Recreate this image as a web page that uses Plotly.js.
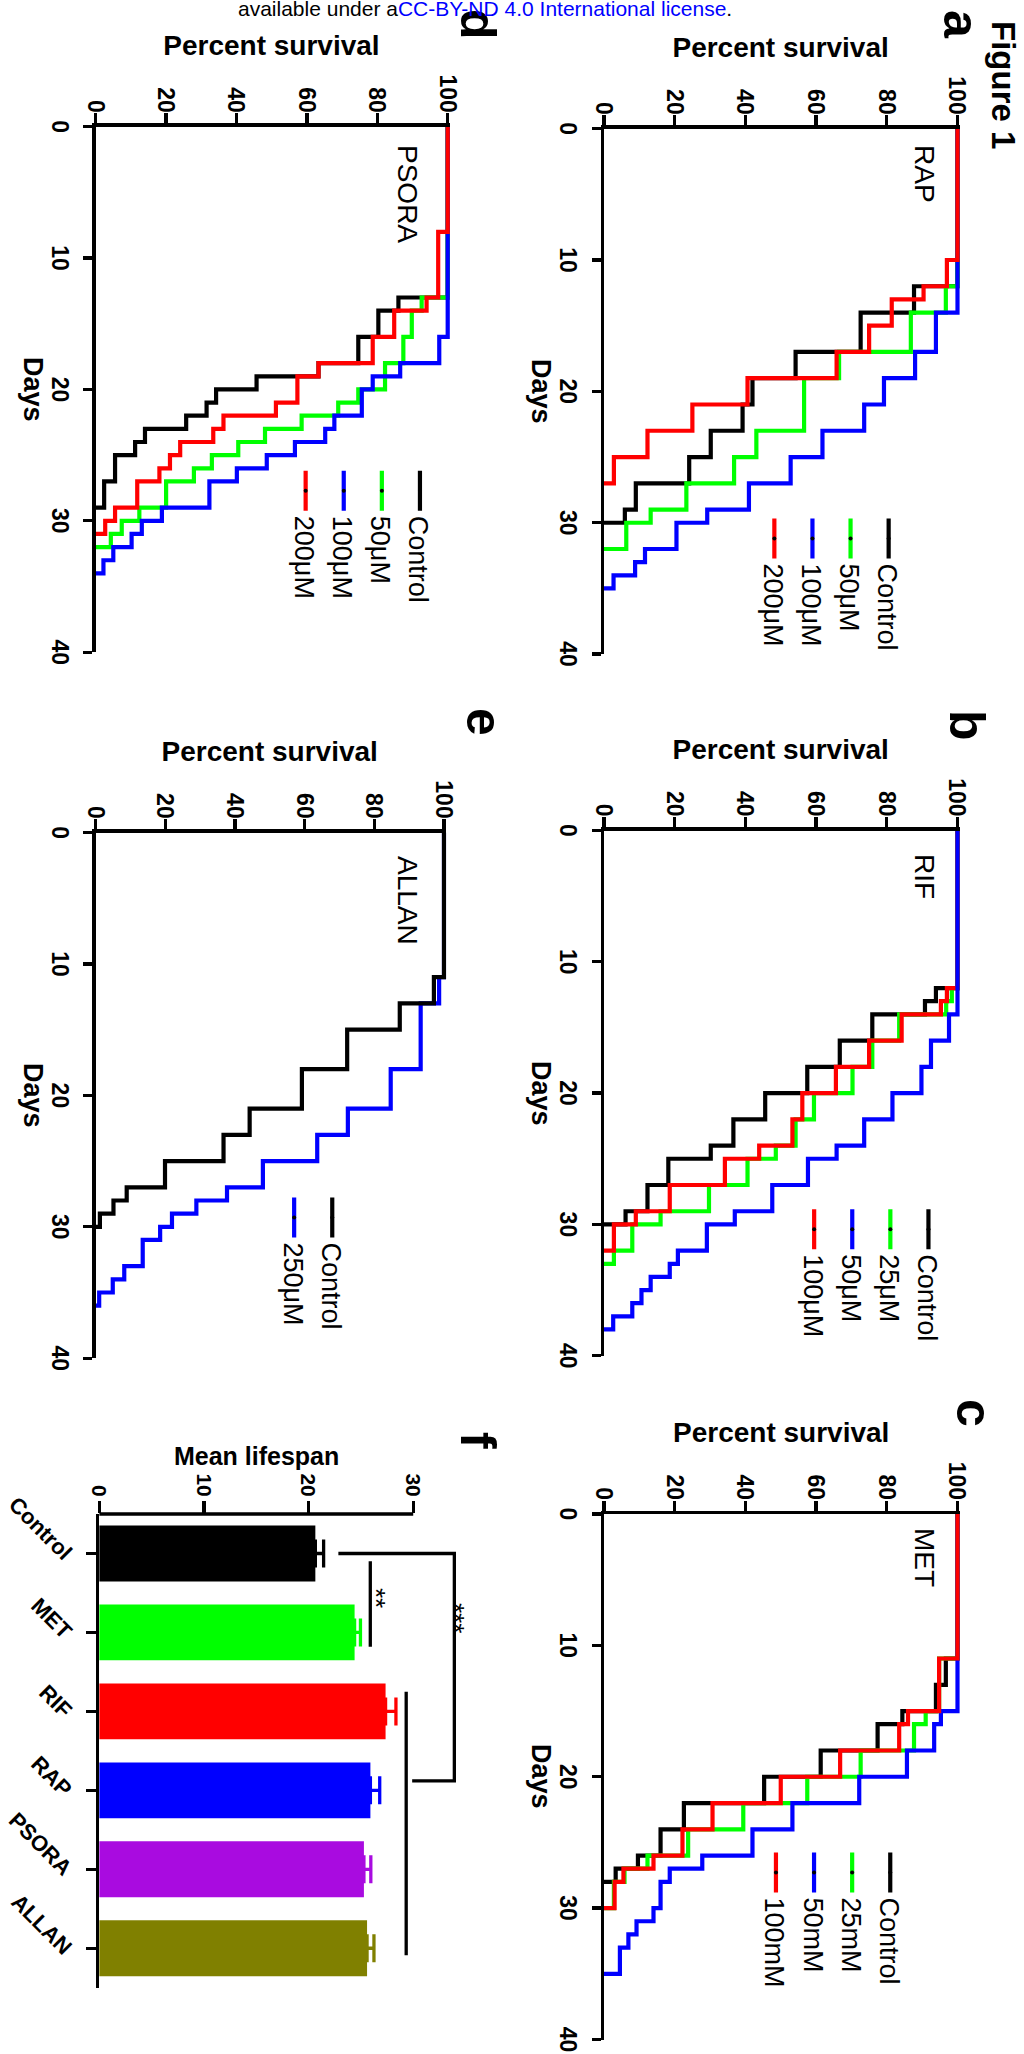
<!DOCTYPE html>
<html>
<head>
<meta charset="utf-8">
<title>Figure 1 – survival and mean lifespan</title>
<script src="https://cdn.plot.ly/plotly-3.0.1.min.js"></script>
<style>
  html, body { margin: 0; padding: 0; background: #fff; }
  body { width: 1024px; height: 2054px; overflow: hidden; position: relative; }
  /* the figure is laid out in landscape and turned a quarter clockwise onto the portrait page */
  #figure { position: absolute; left: 0; top: 0; width: 2054px; height: 1024px; z-index: 1;
            transform-origin: 0 0; transform: translate(1024px, 0) rotate(90deg); }
  #notice { position: absolute; left: 238px; top: -2px; white-space: nowrap; color: #000; z-index: 2;
            font: 21px Arial, "Liberation Sans", sans-serif; line-height: 21px; }
  #notice span { color: #0000ff; }
</style>
</head>
<body>
<div id="figure"></div>
<div id="notice">available under a<span>CC-BY-ND 4.0 International license</span>.</div>
<script>
// ---------- Kaplan-Meier steps: day of each death event, percent alive after it ----------
// a  RAP
const rapControlDays = [0, 12, 14, 17, 19, 21, 23, 25, 27, 29, 30];
const rapControlSurv = [100, 87.7, 72.6, 54.2, 42.0, 39.2, 30.2, 24.1, 9.0, 5.9, 0];
const rap50Days = [0, 12, 14, 17, 19, 23, 25, 27, 29, 30, 32];
const rap50Surv = [100, 96.7, 86.8, 66.5, 56.6, 43.1, 36.8, 23.3, 13.2, 6.3, 0];
const rap100Days = [0, 14, 17, 19, 21, 23, 25, 27, 29, 30, 32, 33, 34, 35];
const rap100Surv = [100, 93.9, 88.0, 79.2, 73.6, 61.8, 52.8, 41.0, 29.2, 20.5, 11.6, 8.8, 2.7, 0];
const rap200Days = [0, 10, 12, 13, 15, 17, 19, 21, 23, 25, 27];
const rap200Surv = [100, 97.0, 90.4, 81.4, 75.0, 65.8, 40.6, 25.0, 12.3, 2.8, 0];
// b  RIF
const rifControlDays = [0, 12, 13, 14, 16, 18, 20, 22, 24, 25, 27, 29, 30];
const rifControlSurv = [100, 93.9, 90.8, 75.9, 66.7, 57.5, 45.6, 36.6, 30.2, 18.2, 12.3, 6.1, 0];
const rif25Days = [0, 12, 13, 14, 16, 18, 20, 22, 24, 25, 27, 29, 30, 32, 33];
const rif25Surv = [100, 98.4, 96.8, 83.5, 75.9, 70.3, 59.4, 54.2, 48.6, 40.6, 29.7, 16.0, 8.0, 2.8, 0];
const rif50Days = [0, 14, 16, 18, 20, 22, 24, 25, 27, 29, 30, 32, 33, 34, 35, 36, 37, 38];
const rif50Surv = [100, 97.6, 92.5, 89.8, 81.6, 73.6, 65.8, 57.7, 47.6, 37.0, 29.1, 20.9, 18.6, 13.2, 10.6, 8.0, 2.6, 0];
const rif100Days = [0, 12, 13, 14, 16, 18, 20, 22, 24, 25, 27, 29, 30, 32];
const rif100Surv = [100, 97.0, 95.3, 84.2, 75.0, 65.6, 56.1, 53.3, 43.9, 34.2, 18.6, 9.0, 2.8, 0];
// c  MET
const metControlDays = [0, 11, 13, 15, 16, 18, 20, 22, 24, 26, 27, 28];
const metControlSurv = [100, 96.7, 93.9, 84.4, 77.4, 61.3, 45.3, 22.6, 16.0, 9.6, 3.3, 0];
const met25Days = [0, 11, 15, 16, 18, 20, 22, 24, 26, 27, 28, 30];
const met25Surv = [100, 94.8, 91.0, 87.7, 72.6, 57.5, 39.4, 23.8, 12.3, 5.8, 2.8, 0];
const met50Days = [0, 15, 16, 18, 20, 22, 24, 26, 27, 28, 30, 31, 32, 33, 35];
const met50Surv = [100, 95.3, 93.4, 85.7, 72.2, 53.3, 42.0, 27.8, 18.6, 16.0, 14.0, 9.2, 6.9, 4.5, 0];
const met100Days = [0, 11, 15, 16, 18, 20, 22, 24, 26, 27, 28, 30];
const met100Surv = [100, 94.8, 86.0, 83.5, 66.8, 50.0, 30.7, 22.2, 14.0, 5.5, 3.0, 0];
// d  PSORA
const psoControlDays = [0, 13, 14, 16, 18, 19, 20, 21, 22, 23, 24, 25, 27, 29];
const psoControlSurv = [100, 86.0, 80.3, 74.6, 63.3, 45.7, 34.2, 31.5, 25.7, 14.0, 11.2, 5.5, 2.4, 0];
const pso50Days = [0, 13, 14, 16, 18, 20, 21, 22, 23, 24, 25, 26, 27, 29, 30, 31, 32];
const pso50Surv = [100, 92.6, 89.8, 87.4, 82.2, 74.6, 68.9, 58.5, 48.1, 40.5, 33.0, 27.9, 20.0, 12.4, 7.4, 4.3, 0];
const pso100Days = [0, 16, 18, 19, 20, 22, 23, 24, 25, 26, 27, 29, 30, 31, 32, 33, 34];
const pso100Surv = [100, 97.6, 86.5, 78.7, 75.6, 67.8, 65.2, 56.6, 48.6, 40.1, 32.3, 18.8, 13.1, 10.2, 5.0, 2.2, 0];
const pso200Days = [0, 8, 13, 14, 16, 18, 19, 21, 22, 23, 24, 25, 26, 27, 29, 30, 31];
const pso200Surv = [100, 97.3, 94.0, 84.8, 78.7, 63.3, 57.3, 51.2, 36.3, 33.4, 24.0, 21.1, 18.1, 11.8, 5.5, 2.7, 0];
// e  ALLAN
const allanControlDays = [0, 11, 13, 15, 18, 21, 23, 25, 27, 28, 29, 30];
const allanControlSurv = [100, 97.1, 87.3, 72.2, 59.2, 44.2, 36.7, 19.9, 8.9, 5.1, 1.2, 0];
const allan250Days = [0, 11, 13, 18, 21, 23, 25, 27, 28, 29, 30, 31, 33, 34, 35, 36];
const allan250Surv = [100, 98.6, 93.3, 84.7, 72.4, 63.6, 48.0, 37.7, 28.9, 21.9, 18.5, 13.5, 8.2, 4.9, 1.0, 0];

// ---------- f  mean lifespan (days), mean and SEM ----------
const lifespanGroups = ['Control', 'MET', 'RIF', 'RAP', 'PSORA', 'ALLAN'];
const lifespanMean = [20.65, 24.40, 27.36, 25.91, 25.29, 25.59];
const lifespanSem = [0.79, 0.56, 0.99, 0.89, 0.66, 0.66];

// significance brackets, in (group index, days) units
const ctrlMetCat = [0.1, 1.18];
const ctrlMetVal = [25.9, 25.9];
const ctrlDrugCat = [0, 0, 2.88, 2.88];
const ctrlDrugVal = [22.85, 33.93, 33.93, 29.9];
const drugSetCat = [1.75, 5.09];
const drugSetVal = [29.33, 29.33];
const starText = ['**', '***'];
const starCat = [0.57, 0.82];
const starVal = [26.46, 33.96];

// tick positions
const dayTicks = [0, 10, 20, 30, 40];
const pctTicks = [0, 20, 40, 60, 80, 100];
const lifespanTicks = [0, 10, 20, 30];

// ---------- styling ----------
const W = 2054, H = 1024;
const FONT = 'Arial, "Liberation Sans", Helvetica, sans-serif';
const BLACK = '#000000', GREEN = '#00ff00', BLUE = '#0000ff', RED = '#ff0000';
const barColors = ['#000000', '#00ff00', '#ff0000', '#0000ff', '#a90be0', '#808000'];
const CURVE_W = 4.2, AXIS_W = 3.3;
const PCT_TOP = 100.7;      // a little headroom so the 100 % lines are not clipped
const P = X => X / W;       // pixel column of the landscape figure -> paper x
const Q = Y => 1 - Y / H;   // pixel row -> paper y

const panels = [
  { ax: '', legend: 'legend', drug: 'RAP',
    frame: { x0: 128.6, x40: 654.1, y0: 420, y100: 66.5 },
    legendAt: { left: 513.5, top: 111.3 }, labelAt: { x: 143.4, y: 99.3 },
    series: [
      { name: 'Control', days: rapControlDays, surv: rapControlSurv, color: BLACK },
      { name: '50μM', days: rap50Days, surv: rap50Surv, color: GREEN },
      { name: '100μM', days: rap100Days, surv: rap100Surv, color: BLUE },
      { name: '200μM', days: rap200Days, surv: rap200Surv, color: RED } ],
    order: [0, 1, 2, 3] },
  { ax: '2', legend: 'legend2', drug: 'RIF',
    frame: { x0: 830.5, x40: 1355.7, y0: 420, y100: 66.5 },
    legendAt: { left: 1204.2, top: 71.5 }, labelAt: { x: 851.6, y: 99.3 },
    series: [
      { name: 'Control', days: rifControlDays, surv: rifControlSurv, color: BLACK },
      { name: '25μM', days: rif25Days, surv: rif25Surv, color: GREEN },
      { name: '50μM', days: rif50Days, surv: rif50Surv, color: BLUE },
      { name: '100μM', days: rif100Days, surv: rif100Surv, color: RED } ],
    order: [0, 1, 3, 2] },
  { ax: '3', legend: 'legend3', drug: 'MET',
    frame: { x0: 1514, x40: 2039.5, y0: 420, y100: 66.5 },
    legendAt: { left: 1847.5, top: 109.7 }, labelAt: { x: 1526, y: 99.3 },
    series: [
      { name: 'Control', days: metControlDays, surv: metControlSurv, color: BLACK },
      { name: '25mM', days: met25Days, surv: met25Surv, color: GREEN },
      { name: '50mM', days: met50Days, surv: met50Surv, color: BLUE },
      { name: '100mM', days: met100Days, surv: met100Surv, color: RED } ],
    order: [0, 1, 2, 3] },
  { ax: '4', legend: 'legend4', drug: 'PSORA',
    frame: { x0: 126.7, x40: 652.2, y0: 928.3, y100: 576.3 },
    legendAt: { left: 465.8, top: 580 }, labelAt: { x: 143.2, y: 616.6 },
    series: [
      { name: 'Control', days: psoControlDays, surv: psoControlSurv, color: BLACK },
      { name: '50μM', days: pso50Days, surv: pso50Surv, color: GREEN },
      { name: '100μM', days: pso100Days, surv: pso100Surv, color: BLUE },
      { name: '200μM', days: pso200Days, surv: pso200Surv, color: RED } ],
    order: [0, 1, 2, 3] },
  { ax: '5', legend: 'legend5', drug: 'ALLAN',
    frame: { x0: 832.6, x40: 1358.2, y0: 928.3, y100: 580 },
    legendAt: { left: 1192.5, top: 667.7 }, labelAt: { x: 853.7, y: 616.6 },
    series: [
      { name: 'Control', days: allanControlDays, surv: allanControlSurv, color: BLACK },
      { name: '250μM', days: allan250Days, surv: allan250Surv, color: BLUE } ],
    order: [1, 0] }
];

const axisStyle = {
  showline: true, linecolor: '#000', linewidth: AXIS_W,
  ticks: 'outside', tickwidth: AXIS_W, tickcolor: '#000',
  showgrid: false, zeroline: false, fixedrange: true, tickmode: 'array'
};
const boldFont = size => ({ family: FONT, size: size, color: '#000', weight: 'bold' });
const plainFont = size => ({ family: FONT, size: size, color: '#000' });

const traces = [];
const layout = {
  width: W, height: H,
  margin: { l: 0, r: 0, t: 0, b: 0, pad: 0 },
  paper_bgcolor: '#ffffff', plot_bgcolor: 'rgba(0,0,0,0)',
  font: { family: FONT, color: '#000' },
  showlegend: true, hovermode: false, barmode: 'overlay',
  annotations: [], shapes: []
};

// ---------- survival panels a-e ----------
panels.forEach(p => {
  const f = p.frame;
  const pxPerPct = (f.y0 - f.y100) / 100;
  const yTop = f.y100 - (PCT_TOP - 100) * pxPerPct;
  layout['xaxis' + p.ax] = Object.assign({}, axisStyle, {
    domain: [P(f.x0), P(f.x40)], range: [0, 40], tickvals: dayTicks,
    anchor: 'y' + p.ax, ticklen: 9, ticklabelstandoff: 4, tickfont: boldFont(23)
  });
  layout['yaxis' + p.ax] = Object.assign({}, axisStyle, {
    domain: [Q(f.y0), Q(yTop)], range: [0, PCT_TOP], tickvals: pctTicks,
    anchor: 'x' + p.ax, ticklen: 10, ticklabelstandoff: -4, tickfont: boldFont(23)
  });

  p.order.forEach(i => {
    const s = p.series[i];
    traces.push({
      type: 'scatter', mode: 'lines', name: s.name, x: s.days, y: s.surv,
      xaxis: 'x' + p.ax, yaxis: 'y' + p.ax, showlegend: false, hoverinfo: 'skip',
      line: { color: s.color, width: CURVE_W, shape: 'hv' }
    });
  });
  // legend keys: line with the small point symbol in its middle
  p.series.forEach(s => {
    traces.push({
      type: 'scatter', mode: 'lines+markers', name: s.name, x: [null], y: [null],
      xaxis: 'x' + p.ax, yaxis: 'y' + p.ax, legend: p.legend, hoverinfo: 'skip',
      line: { color: s.color, width: CURVE_W }, marker: { color: '#000', size: 4 }
    });
  });
  layout[p.legend] = {
    x: P(p.legendAt.left), y: Q(p.legendAt.top), xanchor: 'left', yanchor: 'top',
    bgcolor: 'rgba(0,0,0,0)', borderwidth: 0, itemwidth: 40, traceorder: 'normal',
    font: plainFont(27), itemclick: false, itemdoubleclick: false
  };

  layout.annotations.push(
    { xref: 'paper', yref: 'y' + p.ax, x: P(f.x0 - 81.3), y: 50, text: 'Percent survival',
      textangle: -90, showarrow: false, xanchor: 'center', yanchor: 'middle', font: boldFont(28) },
    { xref: 'x' + p.ax, yref: 'paper', x: 20, y: Q(f.y0 + 62.9), text: 'Days',
      showarrow: false, xanchor: 'center', yanchor: 'middle', font: boldFont(27) },
    { xref: 'paper', yref: 'paper', x: P(p.labelAt.x), y: Q(p.labelAt.y), text: p.drug,
      showarrow: false, xanchor: 'left', yanchor: 'middle', font: plainFont(28) }
  );
});

// ---------- panel f: mean lifespan ----------
const F = { x0: 1514, x1: 1987.7, y0: 924.8, pxPerDay: 10.467, top: 35 };
layout.xaxis6 = Object.assign({}, axisStyle, {
  domain: [P(F.x0), P(F.x1)], range: [-0.5, 5.5],
  tickvals: lifespanGroups.map((g, i) => i), ticktext: lifespanGroups,
  tickangle: -45, ticklen: 10, tickfont: boldFont(22), anchor: 'y6'
});
layout.yaxis6 = Object.assign({}, axisStyle, {
  showline: false,
  domain: [Q(F.y0), Q(F.y0 - F.top * F.pxPerDay)], range: [0, F.top],
  tickvals: lifespanTicks, ticklen: 12, tickfont: boldFont(21), anchor: 'x6'
});
// value axis line only spans 0-30
layout.shapes.push({
  type: 'line', xref: 'paper', yref: 'y6', x0: P(F.x0), x1: P(F.x0),
  y0: 0, y1: lifespanTicks[lifespanTicks.length - 1], line: { color: '#000', width: AXIS_W }
});

lifespanGroups.forEach((g, i) => {
  traces.push({
    type: 'bar', name: g, x: [i], y: [lifespanMean[i]], width: 0.707,
    xaxis: 'x6', yaxis: 'y6', showlegend: false, hoverinfo: 'skip',
    marker: { color: barColors[i], line: { width: 0 } },
    error_y: { type: 'data', symmetric: false, array: [lifespanSem[i]], arrayminus: [0],
               color: barColors[i], thickness: 3.3, width: 14 }
  });
});

[[ctrlMetCat, ctrlMetVal], [ctrlDrugCat, ctrlDrugVal], [drugSetCat, drugSetVal]].forEach(b => {
  traces.push({
    type: 'scatter', mode: 'lines', x: b[0], y: b[1], xaxis: 'x6', yaxis: 'y6',
    showlegend: false, hoverinfo: 'skip', line: { color: '#000', width: AXIS_W }
  });
});
starText.forEach((t, i) => {
  layout.annotations.push({
    xref: 'x6', yref: 'y6', x: starCat[i], y: starVal[i], text: t, showarrow: false,
    xanchor: 'center', yanchor: 'middle', font: plainFont(26)
  });
});
layout.annotations.push({
  xref: 'paper', yref: 'y6', x: P(1455.3), y: 15, text: 'Mean lifespan', textangle: -90,
  showarrow: false, xanchor: 'center', yanchor: 'middle', font: boldFont(25)
});

// ---------- figure and panel labels ----------
layout.annotations.push({
  xref: 'paper', yref: 'paper', x: P(19), y: Q(20.6), text: 'Figure 1', showarrow: false,
  xanchor: 'left', yanchor: 'middle', font: boldFont(33)
});
[['a', 24, 63.4], ['b', 725, 56.7], ['c', 1413, 50],
 ['d', 24.5, 546.2], ['e', 722, 540.1], ['f', 1440.5, 545.7]].forEach(l => {
  layout.annotations.push({
    xref: 'paper', yref: 'paper', x: P(l[1]), y: Q(l[2]), text: l[0], showarrow: false,
    xanchor: 'center', yanchor: 'middle', font: boldFont(50)
  });
});

Plotly.newPlot('figure', traces, layout, { staticPlot: true, displayModeBar: false });
</script>
</body>
</html>
